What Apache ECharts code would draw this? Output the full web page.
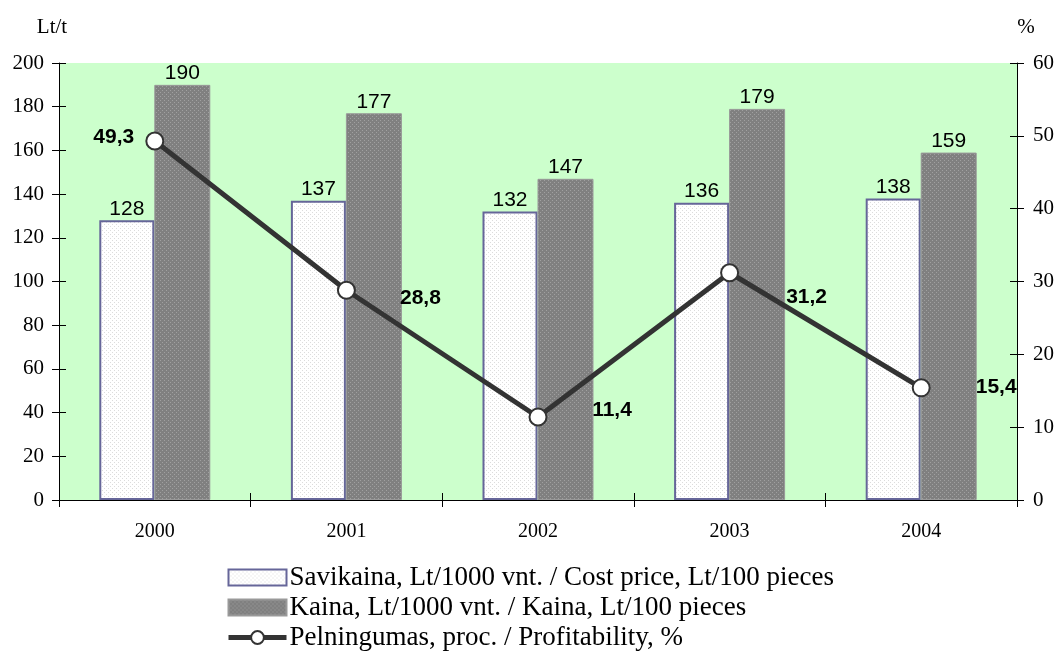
<!DOCTYPE html>
<html>
<head>
<meta charset="utf-8">
<script src="https://cdn.jsdelivr.net/npm/echarts@6/dist/echarts.min.js"></script>
<style>
html, body { margin: 0; padding: 0; background: #fff; }
#chart { width: 1058px; height: 657px; }
</style>
</head>
<body>
<div id="chart"></div>
<script>
var years = ['2000', '2001', '2002', '2003', '2004'];
var costPrice = [128, 137, 132, 136, 138];
var price = [190, 177, 147, 179, 159];
var profitability = [49.3, 28.8, 11.4, 31.2, 15.4];
var leftTicks = [0, 20, 40, 60, 80, 100, 120, 140, 160, 180, 200];
var rightTicks = [0, 10, 20, 30, 40, 50, 60];

var names = [
    'Savikaina, Lt/1000 vnt. / Cost price, Lt/100 pieces',
    'Kaina, Lt/1000 vnt. / Kaina, Lt/100 pieces',
    'Pelningumas, proc. / Profitability, %'
];

// small dotted fills, like the old excel patterns
function makePattern(bg, dot) {
    var c = document.createElement('canvas');
    c.width = 4; c.height = 4;
    var ctx = c.getContext('2d');
    ctx.fillStyle = bg;
    ctx.fillRect(0, 0, 4, 4);
    ctx.fillStyle = dot;
    ctx.fillRect(0, 0, 1, 1);
    ctx.fillRect(2, 2, 1, 1);
    return { image: c, repeat: 'repeat' };
}

var myChart = echarts.init(document.getElementById('chart'));

// per point label offsets (from the picture)
var lineOffsets = [[-41, -4], [74, 8], [74, -7], [77, 24], [75, -1]];
var lineData = profitability.map(function (v, i) {
    return {
        value: v,
        label: { offset: lineOffsets[i] }
    };
});

var serif = '"Liberation Serif", "Times New Roman", serif';
var sans = '"Liberation Sans", Arial, sans-serif';

var option = {
    animation: false,
    backgroundColor: '#ffffff',
    grid: {
        left: 59, right: 41, top: 63, bottom: 157,
        show: true,
        backgroundColor: '#ccffcc',
        borderWidth: 0
    },
    legend: {
        orient: 'vertical',
        left: 226,
        top: 564,
        padding: 0,
        itemWidth: 58,
        itemHeight: 16,
        itemGap: 3,
        textStyle: { fontFamily: serif, fontSize: 27, color: '#000', padding: [0, 0, 0, -2] },
        data: [
            { name: names[0], icon: 'rect' },
            { name: names[1], icon: 'rect' },
            { name: names[2], lineStyle: { width: 5, color: '#333333' } }
        ]
    },
    xAxis: [{
        type: 'category',
        data: years,
        axisLine: { lineStyle: { color: '#000', width: 1 } },
        axisTick: { show: true, length: 7, inside: false, lineStyle: { color: '#000' } },
        axisLabel: { fontFamily: serif, fontSize: 20, color: '#000', margin: 22 }
    }, {
        type: 'category',
        data: years,
        position: 'bottom',
        axisLine: { show: false },
        axisTick: { show: true, length: 7, inside: true, lineStyle: { color: '#000' } },
        axisLabel: { show: false }
    }],
    yAxis: [{
        type: 'value',
        name: 'Lt/t',
        nameGap: 25,
        nameTextStyle: { fontFamily: serif, fontSize: 21, color: '#000', align: 'center', padding: [0, 0, 0, -14] },
        min: leftTicks[0],
        max: leftTicks[leftTicks.length - 1],
        interval: 20,
        axisLine: { show: true, lineStyle: { color: '#000' } },
        axisTick: { show: true, length: 7, lineStyle: { color: '#000' } },
        axisLabel: { fontFamily: serif, fontSize: 21, color: '#000', margin: 15 },
        splitLine: { show: false }
    }, {
        type: 'value',
        position: 'right',
        name: '%',
        nameGap: 25,
        nameTextStyle: { fontFamily: serif, fontSize: 21, color: '#000', align: 'center', padding: [0, 0, 0, 18] },
        min: rightTicks[0],
        max: rightTicks[rightTicks.length - 1],
        interval: 10,
        axisLine: { show: true, lineStyle: { color: '#000' } },
        axisTick: { show: true, length: 7, lineStyle: { color: '#000' } },
        axisLabel: { fontFamily: serif, fontSize: 21, color: '#000', margin: 16 },
        splitLine: { show: false }
    }, {
        // inner half of the left ticks
        type: 'value', position: 'left', min: 0, max: 200, interval: 20,
        axisLine: { show: false },
        axisTick: { show: true, inside: true, length: 7, lineStyle: { color: '#000' } },
        axisLabel: { show: false }, splitLine: { show: false }
    }, {
        // inner half of the right ticks
        type: 'value', position: 'right', min: 0, max: 60, interval: 10,
        axisLine: { show: false },
        axisTick: { show: true, inside: true, length: 7, lineStyle: { color: '#000' } },
        axisLabel: { show: false }, splitLine: { show: false }
    }],
    series: [{
        name: names[0],
        type: 'bar',
        data: costPrice,
        barWidth: 55,
        barGap: '0%',
        itemStyle: {
            color: makePattern('#ffffff', '#dcdcdc'),
            borderColor: '#666699',
            borderWidth: 2
        },
        label: {
            show: true, position: 'top', distance: 1,
            fontFamily: sans, fontSize: 21, color: '#000'
        }
    }, {
        name: names[1],
        type: 'bar',
        data: price,
        barWidth: 56,
        barGap: '0%',
        itemStyle: {
            color: makePattern('#808080', '#a0a0a0'),
            borderColor: '#999999',
            borderWidth: 1
        },
        label: {
            show: true, position: 'top', distance: 1,
            fontFamily: sans, fontSize: 21, color: '#000'
        }
    }, {
        name: names[2],
        type: 'line',
        yAxisIndex: 1,
        data: lineData,
        symbol: 'circle',
        symbolSize: 17,
        lineStyle: { color: '#333333', width: 5 },
        itemStyle: { color: '#ffffff', borderColor: '#333333', borderWidth: 2 },
        label: {
            show: true, position: 'inside',
            fontFamily: sans, fontSize: 21, fontWeight: 'bold', color: '#000',
            formatter: function (p) { return String(p.value).replace('.', ','); }
        },
        z: 5
    }]
};

myChart.setOption(option, true);
</script>
</body>
</html>
